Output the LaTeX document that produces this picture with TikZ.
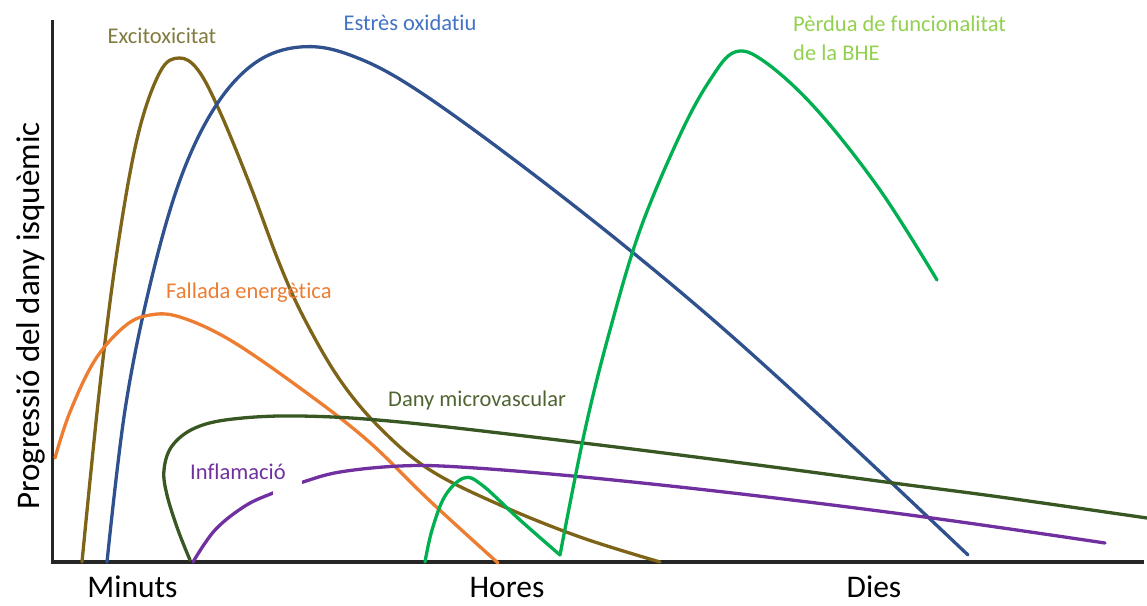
\documentclass[tikz,border=0pt]{standalone}
\usepackage{fontspec}
\setmainfont{Carlito}[Ligatures={NoCommon}]

\definecolor{excitC}{RGB}{125,100,25}
\definecolor{excitT}{RGB}{130,122,62}
\definecolor{oxidC}{RGB}{47,82,143}
\definecolor{oxidT}{RGB}{68,114,196}
\definecolor{bheC}{RGB}{0,176,80}
\definecolor{bheT}{RGB}{146,208,80}
\definecolor{energC}{RGB}{237,125,49}
\definecolor{microC}{RGB}{56,87,35}
\definecolor{microT}{RGB}{80,100,50}
\definecolor{inflC}{RGB}{112,48,160}

\tikzset{
  curve/.style={line width=3.3pt, smooth, tension=0.6, line cap=round, line join=round},
  axisline/.style={line width=3.6pt, black!85},
  lbl/.style={font=\fontsize{22.5}{29}\selectfont, inner sep=0pt, anchor=base},
  axlbl/.style={font=\fontsize{31.5}{36}\selectfont, inner sep=0pt, anchor=base}
}

\begin{document}
\begin{tikzpicture}[x=1pt, y=-1pt]
\useasboundingbox (0,0) rectangle (1147,605);

% axes
\coordinate (top) at (52.5,20);
\coordinate (orig) at (52.5,562);
\coordinate (xend) at (1144,562);
\draw[axisline] (top) -- (orig) -- (xend);

% excitotoxicity
\draw[curve, excitC] plot coordinates {(82,562) (100,385) (118,245) (138,135) (160,72) (179,58) (198,70) (220,112) (250,185) (280,265) (305,320) (340,380) (380,428) (430,470) (500,505) (580,537) (660,562)};

% oxidative stress
\draw[curve, oxidC] plot coordinates {(107,562) (125,410) (150,285) (180,180) (215,107) (255,63) (300,47) (350,55) (420,92) (550,187) (690,300) (820,416) (968,555)};

% energy failure
\draw[curve, energC] plot coordinates {(55,458) (70,412) (95,360) (125,326) (150,315) (180,317) (230,340) (300,388) (367,440) (430,501) (498,563)};

% microvascular damage
\draw[curve, microC] plot coordinates {(190,560) (178,530) (167,495) (164,470) (172,446) (195,428) (233,419) (300,416) (400,422) (583,443) (750,464) (893,483) (1000,497) (1147,518)};

% inflammation
\draw[curve, inflC] plot coordinates {(193,562) (215,530) (245,506) (273,493) (303,482) (340,472) (400,466) (460,467) (583,477) (750,495) (932,518) (1105,543)};
\fill[white] (273,470) rectangle (302,498);

% blood-brain barrier
\draw[curve, bheC] plot coordinates {(425,562) (432,530) (445,496) (464,478) (482,485) (520,520) (560,555)};
\draw[curve, bheC] plot coordinates {(560,555) (585,430) (610,330) (640,230) (680,135) (710,80) (735,52) (765,62) (817,110) (880,190) (937,280)};

% curve labels
\node[lbl, excitT] (excit) at (162,43) {Excitoxicitat};
\node[lbl, oxidT] (oxid) at (410,30) {Estrès oxidatiu};
\node[lbl, bheT, anchor=base west] (bhe1) at (793,31) {Pèrdua de funcionalitat};
\node[lbl, bheT, anchor=base west] (bhe2) at (793,60) {de la BHE};
\node[lbl, energC, anchor=base west] (energ) at (166,298) {Fallada energètica};
\node[lbl, microT, anchor=base west] (micro) at (388,406) {Dany microvascular};
\node[lbl, inflC, anchor=base west] (infl) at (190,479) {Inflamació};

% axis labels
\node[axlbl] (minuts) at (132.5,597) {Minuts};
\node[axlbl] (hores) at (507,597) {Hores};
\node[axlbl] (dies) at (874,597) {Dies};
\node[axlbl, font=\fontsize{33}{36}\selectfont, rotate=90] (ylab) at (39,316) {Progressió del dany isquèmic};
\end{tikzpicture}
\end{document}
